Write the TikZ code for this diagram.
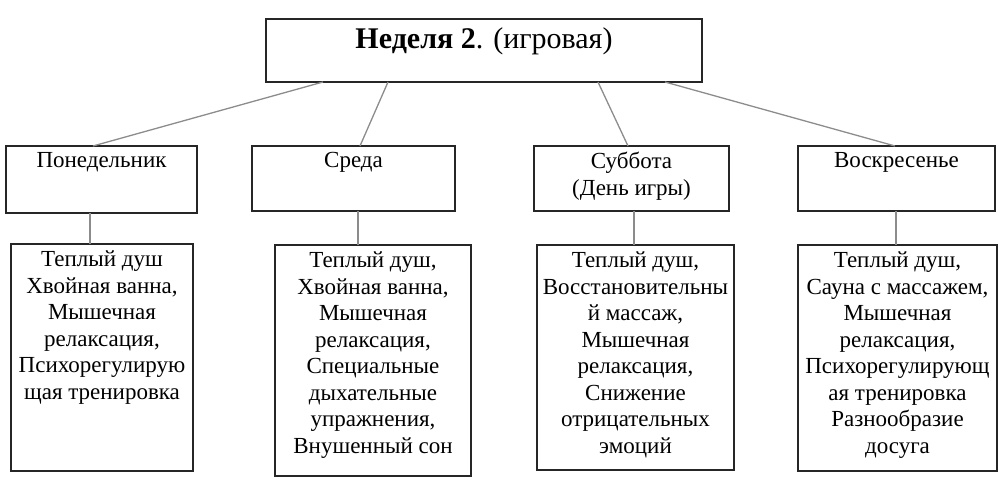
\documentclass[tikz,border=0pt]{standalone}
\usepackage{fontspec}
\setmainfont{Liberation Serif}
\begin{document}
\begin{tikzpicture}[x=1pt,y=-1pt,
  box/.style={draw=black!85,line width=1.4pt,inner sep=0pt,outer sep=0pt,anchor=north west},
  txt/.style={anchor=north,inner sep=0pt,align=center,font=\fontsize{23}{26.5}\selectfont},
  conn/.style={draw=black!45,line width=1.3pt}]
\useasboundingbox (0,0) rectangle (1002,481);
% title
\node[box,minimum width=436pt,minimum height=63pt] (title) at (266,19) {};
\node[anchor=north,inner sep=0pt,font=\fontsize{30}{34}\selectfont] (titlet) at ([yshift=-8pt]title.north) {\textbf{Неделя 2}. (игровая)};
% day boxes
\node[box,minimum width=191pt,minimum height=67pt] (mon) at (6,146) {};
\node[box,minimum width=203pt,minimum height=65pt] (wed) at (252,146) {};
\node[box,minimum width=195pt,minimum height=65pt] (sat) at (534,146) {};
\node[box,minimum width=197pt,minimum height=65pt] (sun) at (798,146) {};
\node[txt] (mont) at ([yshift=-6pt]mon.north) {Понедельник};
\node[txt] (wedt) at ([yshift=-6pt]wed.north) {Среда};
\node[txt] (satt) at ([yshift=-6pt]sat.north) {Суббота\\(День игры)};
\node[txt] (sunt) at ([yshift=-6pt]sun.north) {Воскресенье};
% detail boxes
\node[box,minimum width=182pt,minimum height=227pt] (b1) at (11,244) {};
\node[box,minimum width=196pt,minimum height=231pt] (b2) at (275,245) {};
\node[box,minimum width=197pt,minimum height=225pt] (b3) at (537,245) {};
\node[box,minimum width=199pt,minimum height=226pt] (b4) at (798,245) {};
\node[txt] (b1t) at ([yshift=-7pt]b1.north) {Теплый душ\\Хвойная ванна,\\Мышечная\\релаксация,\\Психорегулирую\\щая тренировка};
\node[txt] (b2t) at ([yshift=-7pt]b2.north) {Теплый душ,\\Хвойная ванна,\\Мышечная\\релаксация,\\Специальные\\дыхательные\\упражнения,\\Внушенный сон};
\node[txt] (b3t) at ([yshift=-7pt]b3.north) {Теплый душ,\\Восстановительны\\й массаж,\\Мышечная\\релаксация,\\Снижение\\отрицательных\\эмоций};
\node[txt] (b4t) at ([yshift=-7pt]b4.north) {Теплый душ,\\Сауна с массажем,\\Мышечная\\релаксация,\\Психорегулирующ\\ая тренировка\\Разнообразие\\досуга};
% connectors
\draw[conn] ([xshift=57pt]title.south west) -- ([xshift=87pt]mon.north west);
\draw[conn] ([xshift=122pt]title.south west) -- ([xshift=108pt]wed.north west);
\draw[conn] ([xshift=332pt]title.south west) -- ([xshift=94pt]sat.north west);
\draw[conn] ([xshift=399pt]title.south west) -- ([xshift=97pt]sun.north west);
\draw[conn] ([xshift=84pt]mon.south west) -- ([xshift=84pt]mon.south west |- b1.north);
\draw[conn] ([xshift=106pt]wed.south west) -- ([xshift=106pt]wed.south west |- b2.north);
\draw[conn] ([xshift=100pt]sat.south west) -- ([xshift=100pt]sat.south west |- b3.north);
\draw[conn] ([xshift=98pt]sun.south west) -- ([xshift=98pt]sun.south west |- b4.north);
\end{tikzpicture}
\end{document}
